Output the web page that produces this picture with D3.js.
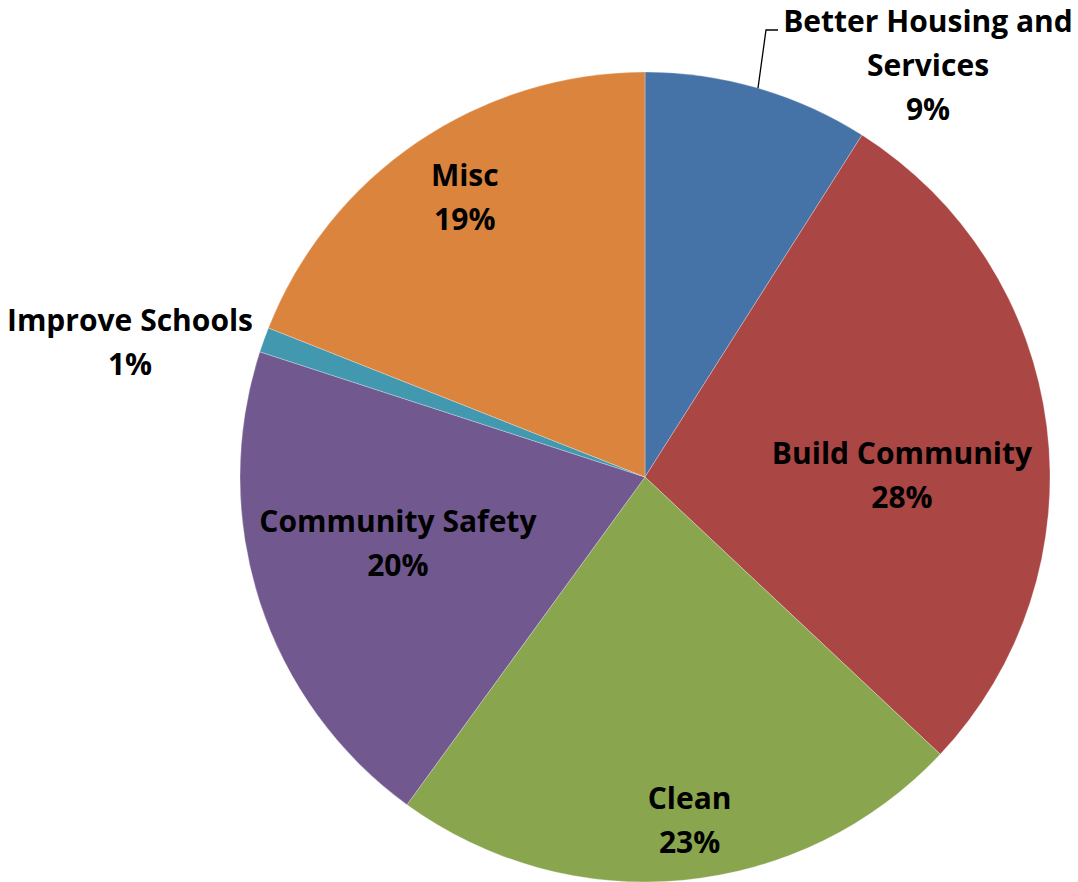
<!DOCTYPE html>
<html>
<head>
<meta charset="utf-8">
<script src="https://cdnjs.cloudflare.com/ajax/libs/d3/7.8.5/d3.min.js"></script>
<style>
  html, body { margin: 0; padding: 0; background: #fff; }
  svg { display: block; }
  text { font-family: "Open Sans", Lato, sans-serif; font-weight: bold; fill: #000; }
</style>
</head>
<body>
<svg id="chart" width="1078" height="882"></svg>
<script>
// Share of neighbourhood priorities, clockwise from 12 o'clock
const categories = ["Better Housing and Services", "Build Community", "Clean",
                    "Community Safety", "Improve Schools", "Misc"];
const shares = [9, 28, 23, 20, 1, 19];
const colors = ["#4572A7", "#AA4643", "#89A54E", "#71588F", "#4198AF", "#DB843D"];

// Label text lines per slice
const labelLines = [
  ["Better Housing and", "Services"],
  ["Build Community"],
  ["Clean"],
  ["Community Safety"],
  ["Improve Schools"],
  ["Misc"]
];

const W = 1078, H = 882;
const cx = 645, cy = 477, R = 405;
const fontSize = 30, lineH = 44;

const svg = d3.select("#chart");
const g = svg.append("g").attr("transform", `translate(${cx},${cy})`);

const pie = d3.pie().sort(null).value(d => d.value);
const arcs = pie(categories.map((c, i) => ({ name: c, value: shares[i], i })));
const arc = d3.arc().innerRadius(0).outerRadius(R);

g.selectAll("path.slice")
  .data(arcs)
  .join("path")
  .attr("class", "slice")
  .attr("d", arc)
  .attr("fill", d => colors[d.data.i])
  .attr("stroke", "rgba(255,255,255,0.35)")
  .attr("stroke-width", 0.8);

// Label placement: inside labels sit along the slice bisector at a chosen radius;
// small slices get outside labels.
const place = [
  { outside: true, x: 928, y: 21 },
  { r: 257, da: 0.12 },
  { r: 346, da: -0.035 },
  { r: 256, da: 0.05 },
  { outside: true, x: 130, y: 320 },
  { r: 333, da: 0.025 }
];

const fmt = v => Math.round(v) + "%";

arcs.forEach((d, k) => {
  const p = place[k];
  const lines = labelLines[k].concat([fmt(d.data.value)]);
  let x, y;
  if (p.outside) {
    x = p.x - cx; y = p.y - cy;
  } else {
    const a = (d.startAngle + d.endAngle) / 2 + p.da;
    x = p.r * Math.sin(a);
    const yc = -p.r * Math.cos(a);
    y = yc - (lines.length - 1) * lineH / 2;
  }
  const t = g.append("text")
    .attr("text-anchor", "middle")
    .attr("font-size", fontSize);
  lines.forEach((ln, j) => {
    t.append("tspan")
      .attr("x", x)
      .attr("y", y + j * lineH)
      .attr("dy", "0.35em")
      .text(ln);
  });
});

// Leader line for the top slice label
const first = arcs[0];
const mid = (first.startAngle + first.endAngle) / 2;
const sx = R * Math.sin(mid), sy = -R * Math.cos(mid);
g.append("path")
  .attr("d", `M${sx},${sy} L${766 - cx},${30 - cy} L${778 - cx},${30 - cy}`)
  .attr("fill", "none")
  .attr("stroke", "#000")
  .attr("stroke-width", 1.3);
</script>
</body>
</html>
